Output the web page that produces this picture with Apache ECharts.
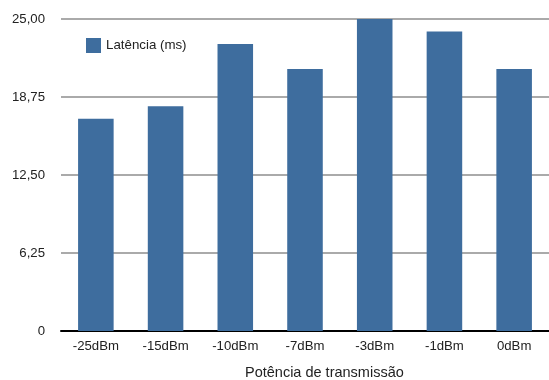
<!DOCTYPE html>
<html>
<head>
<meta charset="utf-8">
<script src="https://cdn.jsdelivr.net/npm/echarts@6/dist/echarts.min.js"></script>
<style>
html,body{margin:0;padding:0;background:#fff;}
#chart{width:549px;height:380px;}
</style>
</head>
<body>
<div id="chart"></div>
<script>
const categories = ['-25dBm','-15dBm','-10dBm','-7dBm','-3dBm','-1dBm','0dBm'];
const latencia = [17.0, 18.0, 23.0, 21.0, 25.0, 24.0, 21.0];
const yTickLabels = {0:'0', 6.25:'6,25', 12.5:'12,50', 18.75:'18,75', 25:'25,00'};
const seriesName = 'Latência (ms)';
const xAxisName = 'Potência de transmissão';

const chart = echarts.init(document.getElementById('chart'), null, {renderer:'canvas'});
const font = '"Liberation Sans", Arial, Helvetica, sans-serif';
chart.setOption({
  animation:false,
  textStyle:{fontFamily:font},
  grid:{left:61, right:-5, top:19, bottom:49, containLabel:false},
  legend:{
    show:true, left:81, top:33, itemWidth:15, itemHeight:15, itemGap:10,
    icon:'rect',
    textStyle:{fontFamily:font, fontSize:13.3, color:'#222', padding:[0,0,0,0]},
    data:[seriesName]
  },
  xAxis:{
    type:'category', data:categories,
    axisLine:{show:true, lineStyle:{color:'#000', width:2}},
    axisTick:{show:false},
    axisLabel:{fontFamily:font, fontSize:13.2, color:'#222', margin:9},
    splitLine:{show:false}
  },
  yAxis:{
    type:'value', min:0, max:25, interval:6.25,
    axisLine:{show:false}, axisTick:{show:false},
    axisLabel:{fontFamily:font, fontSize:13.2, color:'#222', margin:16,
      formatter:v=> yTickLabels[v] !== undefined ? yTickLabels[v] : String(v)},
    splitLine:{show:true, lineStyle:{color:'#aaaaaa', width:2}}
  },
  graphic:[{
    type:'text', left:245, top:365,
    style:{text:xAxisName, fontFamily:font, fontSize:14.5, fill:'#222'}
  }],
  series:[{
    name:seriesName, type:'bar', data:latencia,
    barWidth:'51%',
    itemStyle:{color:'#3e6d9e'}
  }]
});
</script>
</body>
</html>
